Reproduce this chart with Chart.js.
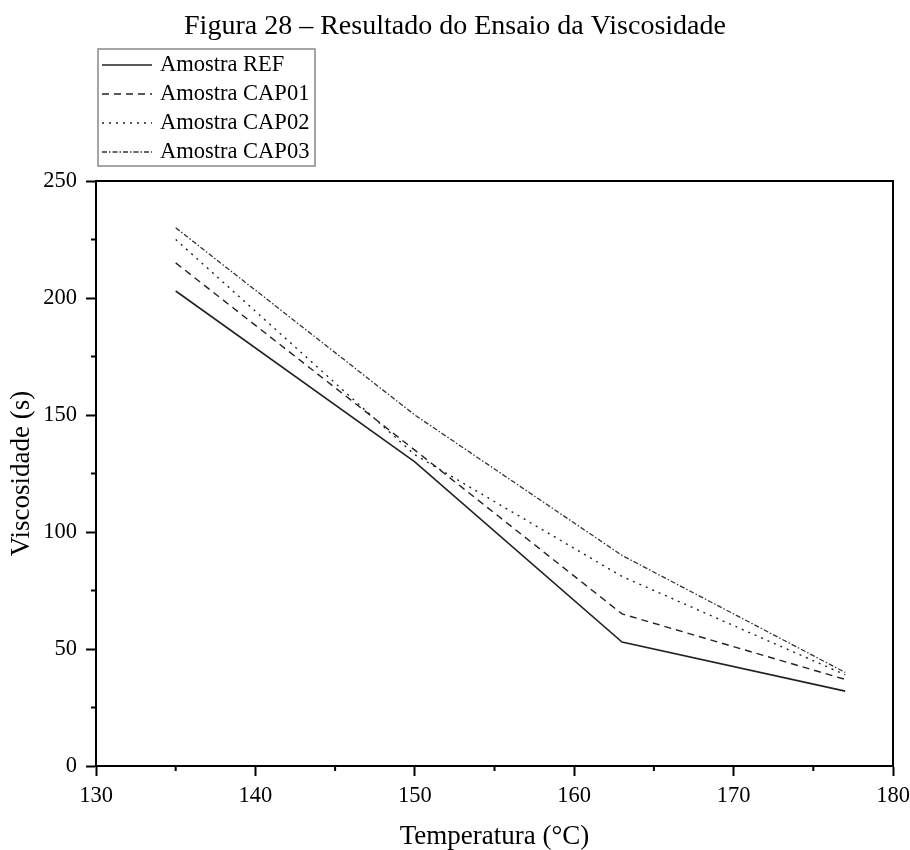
<!DOCTYPE html>
<html>
<head>
<meta charset="utf-8">
<script src="https://cdn.jsdelivr.net/npm/chart.js@4/dist/chart.umd.min.js"></script>
<style>
  body { margin: 0; background: #fff; }
</style>
</head>
<body>
<canvas id="myChart" width="910" height="850"></canvas>
<script>
const temperaturas = [135, 150, 163, 177];
const amostraREF = [203, 130, 53, 32];
const amostraCAP01 = [215, 135, 65, 37];
const amostraCAP02 = [225, 133, 81, 39];
const amostraCAP03 = [230, 150, 90, 40];
const xMinorTicks = [135, 145, 155, 165, 175];
const yMinorTicks = [25, 75, 125, 175, 225];

const SERIF = "'Liberation Serif', 'Times New Roman', serif";
const toPoints = vals => temperaturas.map((t, i) => ({x: t, y: vals[i]}));

// black box round the plot area
const framePlugin = {
    id: 'frame',
    afterDatasetsDraw(chart) {
        const {ctx, chartArea: a} = chart;
        ctx.save();
        ctx.strokeStyle = '#000';
        ctx.lineWidth = 2;
        ctx.strokeRect(a.left, a.top, a.right - a.left, a.bottom - a.top);
        ctx.restore();
    }
};

// short minor ticks on the bottom and left axes
const minorTicksPlugin = {
    id: 'minorTicks',
    afterDraw(chart) {
        const {ctx, chartArea: a, scales} = chart;
        ctx.save();
        ctx.strokeStyle = '#000';
        ctx.lineWidth = 2;
        ctx.beginPath();
        xMinorTicks.forEach(v => {
            const px = scales.x.getPixelForValue(v);
            ctx.moveTo(px, a.bottom);
            ctx.lineTo(px, a.bottom + 5);
        });
        yMinorTicks.forEach(v => {
            const py = scales.y.getPixelForValue(v);
            ctx.moveTo(a.left, py);
            ctx.lineTo(a.left - 5, py);
        });
        ctx.stroke();
        ctx.restore();
    }
};

// boxed legend above the plot, one row per series
const boxLegendPlugin = {
    id: 'boxLegend',
    afterDraw(chart) {
        const {ctx, chartArea: a} = chart;
        const left = a.left + 2, top = 49, w = 217, h = 117, rowH = 29;
        ctx.save();
        ctx.strokeStyle = '#888';
        ctx.lineWidth = 1.5;
        ctx.strokeRect(left, top, w, h);
        ctx.font = '22.5px ' + SERIF;
        ctx.fillStyle = '#000';
        ctx.textBaseline = 'middle';
        chart.data.datasets.forEach((ds, i) => {
            const y = top + 16 + i * rowH;
            ctx.strokeStyle = ds.borderColor;
            ctx.lineWidth = ds.borderWidth;
            ctx.setLineDash(ds.borderDash || []);
            ctx.beginPath();
            ctx.moveTo(left + 4, y);
            ctx.lineTo(left + 54, y);
            ctx.stroke();
            ctx.setLineDash([]);
            ctx.fillText(ds.label, left + 62, y);
        });
        ctx.restore();
    }
};

const data = {
    datasets: [
        {label: 'Amostra REF', data: toPoints(amostraREF), borderColor: '#222', borderWidth: 1.6, borderDash: []},
        {label: 'Amostra CAP01', data: toPoints(amostraCAP01), borderColor: '#222', borderWidth: 1.4, borderDash: [7, 5]},
        {label: 'Amostra CAP02', data: toPoints(amostraCAP02), borderColor: '#222', borderWidth: 1.4, borderDash: [2, 5]},
        {label: 'Amostra CAP03', data: toPoints(amostraCAP03), borderColor: '#333', borderWidth: 1.3, borderDash: [5, 2, 1.5, 2]}
    ]
};

const config = {
    type: 'line',
    data: data,
    options: {
        responsive: false,
        animation: false,
        layout: {padding: {left: 0, right: 0, top: 0, bottom: 0}},
        elements: {point: {radius: 0}, line: {tension: 0}},
        plugins: {
            legend: {display: false},
            tooltip: {enabled: false},
            title: {
                display: true,
                text: 'Figura 28 – Resultado do Ensaio da Viscosidade',
                color: '#000',
                font: {family: SERIF, size: 28, weight: 'normal', lineHeight: 1.2},
                padding: {top: 10, bottom: 137.4}
            }
        },
        scales: {
            x: {
                type: 'linear',
                min: 130,
                max: 180,
                afterFit: scale => {
                    scale.height = 84;
                    scale.paddingLeft = 0;
                    scale.paddingRight = 17;
                },
                grid: {drawOnChartArea: false, drawTicks: true, tickLength: 10, tickWidth: 2, tickColor: '#000'},
                border: {display: true, color: '#000', width: 2},
                ticks: {stepSize: 10, padding: 7, color: '#000', font: {family: SERIF, size: 22.5}, maxRotation: 0},
                title: {
                    display: true,
                    text: 'Temperatura (°C)',
                    color: '#000',
                    font: {family: SERIF, size: 27, lineHeight: 1},
                    padding: {top: 0, bottom: 0}
                }
            },
            y: {
                type: 'linear',
                min: 0,
                max: 250,
                afterFit: scale => { scale.width = 96; },
                grid: {drawOnChartArea: false, drawTicks: true, tickLength: 10, tickWidth: 2, tickColor: '#000'},
                border: {display: true, color: '#000', width: 2},
                ticks: {stepSize: 50, padding: 9, color: '#000', font: {family: SERIF, size: 22.5}},
                title: {
                    display: true,
                    text: 'Viscosidade (s)',
                    color: '#000',
                    font: {family: SERIF, size: 27, lineHeight: 1},
                    padding: {top: 8, bottom: 0}
                }
            }
        }
    },
    plugins: [framePlugin, minorTicksPlugin, boxLegendPlugin]
};

const myChart = new Chart(document.getElementById('myChart').getContext('2d'), config);
</script>
</body>
</html>
